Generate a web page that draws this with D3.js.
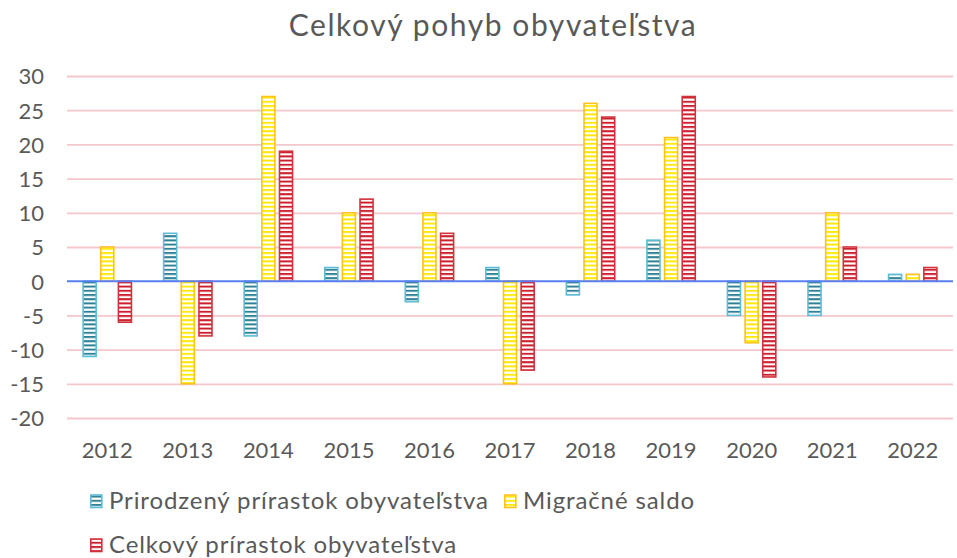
<!DOCTYPE html>
<html><head><meta charset="utf-8">
<script src="https://cdn.jsdelivr.net/npm/d3@7"></script>
<style>body{margin:0;background:#fff}svg{display:block}</style>
</head><body>
<script>
const years = ["2012","2013","2014","2015","2016","2017","2018","2019","2020","2021","2022"];
const seriesNames = ["Prirodzený prírastok obyvateľstva","Migračné saldo","Celkový prírastok obyvateľstva"];
const prirodzeny = [-11, 7, -8, 2, -3, 2, -2, 6, -5, -5, 1];
const migracne = [5, -15, 27, 10, 10, -15, 26, 21, -9, 10, 1];
const celkovy = [-6, -8, 19, 12, 7, -13, 24, 27, -14, 5, 2];
const yTicks = [30,25,20,15,10,5,0,-5,-10,-15,-20];
const title = "Celkový pohyb obyvateľstva";

const W = 957, H = 558;
const font = "Lato, sans-serif";
const textCol = "#595959";
const styles = [
  {stroke:"#5cbdd6", stripe:"#2f8196"},
  {stroke:"#ffc21a", stripe:"#ffe80a"},
  {stroke:"#d3323d", stripe:"#cc1f2d"}
];
const svg = d3.select("body").append("svg").attr("width",W).attr("height",H);
const defs = svg.append("defs");
styles.forEach((s,i)=>{
  const p = defs.append("pattern").attr("id","pat"+i).attr("patternUnits","userSpaceOnUse")
    .attr("width",8).attr("height",4.2);
  p.append("rect").attr("width",8).attr("height",4.2).attr("fill","#fff");
  p.append("rect").attr("y",0).attr("width",8).attr("height",2).attr("fill",s.stripe);
});

function measure(str, size){
  const t = svg.append("text").attr("font-family",font).attr("font-size",size).text(str);
  const w = t.node().getComputedTextLength(); t.remove();
  return w;
}
const numSize = 20*51/measure("2012",20);
const titleSize = 30;
const titleSpacing = Math.max(0,(407 - measure(title,titleSize))/(title.length-1));
const legSize = 24;
const legSpacing = Math.max(0,(379 - measure(seriesNames[0],legSize))/(seriesNames[0].length-1));

const x0 = d3.scaleBand().domain(years).range([67,953]).paddingInner(0).paddingOuter(0);
const x1 = d3.scaleBand().domain([0,1,2]).range([15.3, x0.bandwidth()-15.3]).paddingInner(0.17).paddingOuter(0);
const y = d3.scaleLinear().domain([-20,30]).range([418,76]);

// gridlines + y labels
const gAxis = svg.append("g").attr("transform","translate(67,0)")
  .call(d3.axisLeft(y).tickValues(yTicks).tickSize(-(953-67)).tickFormat(d=>d).tickPadding(23));
gAxis.select(".domain").remove();
gAxis.selectAll(".tick line").attr("stroke",d=>d===0?"none":"#f3c7cc").attr("stroke-width",1.8);
gAxis.selectAll(".tick text").attr("fill",textCol).attr("font-family",font).attr("font-size",numSize)
  .attr("dy","0.36em");

const data = [prirodzeny, migracne, celkovy];
const groups = svg.append("g");
data.forEach((arr,si)=>{
  groups.selectAll(null).data(arr).join("rect")
    .attr("x",(d,i)=>x0(years[i])+x1(si)+0.8)
    .attr("width",x1.bandwidth()-1.6)
    .attr("y",d=>Math.min(y(d),y(0)))
    .attr("height",d=>Math.abs(y(d)-y(0)))
    .attr("fill","url(#pat"+si+")")
    .attr("stroke",styles[si].stroke).attr("stroke-width",1.6);
});

// zero line
svg.append("line").attr("x1",67).attr("x2",953).attr("y1",y(0)).attr("y2",y(0))
  .attr("stroke","#5a7ff2").attr("stroke-width",2);

// x labels
const gx = svg.append("g").attr("transform","translate(0,"+y(-20)+")")
  .call(d3.axisBottom(x0).tickSize(0).tickPadding(0));
gx.select(".domain").remove();
gx.selectAll(".tick text").attr("fill",textCol).attr("font-family",font).attr("font-size",numSize)
  .attr("dy",null).attr("y",40);

// title
svg.append("text").attr("x",493).attr("y",36).attr("text-anchor","middle")
  .attr("fill",textCol).attr("font-family",font).attr("font-size",titleSize)
  .attr("letter-spacing",titleSpacing).text(title);

// legend
const leg = [{x:90,y:509,tx:109},{x:504,y:509,tx:523},{x:90,y:553,tx:109}];
leg.forEach((l,i)=>{
  svg.append("rect").attr("x",l.x+0.8).attr("y",l.y-14).attr("width",11).attr("height",12.5)
    .attr("fill","url(#pat"+i+")").attr("stroke",styles[i].stroke).attr("stroke-width",1.6);
  svg.append("text").attr("x",l.tx).attr("y",l.y).attr("fill",textCol)
    .attr("font-family",font).attr("font-size",legSize).attr("letter-spacing",legSpacing)
    .text(seriesNames[i]);
});
</script>
</body></html>
